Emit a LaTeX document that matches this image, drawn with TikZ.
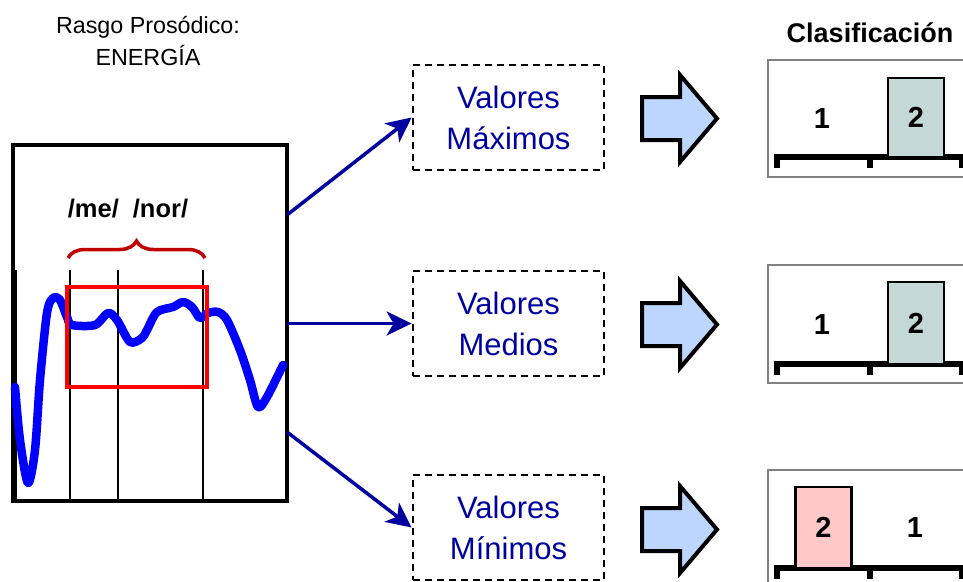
\documentclass[tikz,border=0pt]{standalone}
\usepackage{fontspec}
\setmainfont{Liberation Sans}
\usetikzlibrary{arrows.meta,decorations.pathreplacing}

\definecolor{azulosc}{RGB}{0,0,160}
\definecolor{rojooscuro}{RGB}{192,0,0}
\definecolor{celeste}{RGB}{189,214,255}
\definecolor{grisazul}{RGB}{197,216,216}
\definecolor{rosa}{RGB}{255,200,200}

\begin{document}
\begin{tikzpicture}[x=1pt, y=-1pt,
    caja/.style = {draw, dashed, dash pattern=on 7pt off 5pt, line width=2.8pt, minimum width=191pt, minimum height=105pt, align=center, text=azulosc, font=\fontsize{31}{41}\selectfont},
    flecha/.style = {azulosc, line width=3.5pt, -{Stealth[length=25pt,width=24pt,inset=7pt]}},
    bloque/.style = {draw, fill=celeste, line width=4pt, miter limit=10},
    panel/.style = {draw=gray, line width=2.5pt, minimum width=230pt},
    barra/.style = {draw, line width=2.5pt, minimum width=56pt, inner sep=0pt, font=\fontsize{29}{30}\selectfont\bfseries},
    num/.style = {font=\fontsize{29}{30}\selectfont\bfseries},
    eje/.style = {line width=6pt},
    curva/.style = {blue, line width=8.5pt, line join=round, line cap=round}
    ]
    \useasboundingbox (0,0) rectangle (963,581);
    \clip (0,0) rectangle (963,581);

    % titulos
    \node[align=center, font=\fontsize{23.3}{32}\selectfont] (rasgo) at (148,41) {Rasgo Prosódico:\\ENERGÍA};
    \node[font=\fontsize{27}{30}\selectfont\bfseries] (clasif) at (870,33) {Clasificación};

    % senal de energia
    \node[draw, line width=3.5pt, minimum width=274pt, minimum height=356pt] (senal) at (150,323) {};
    \draw[line width=2pt] (16,270) -- (16,501);
    \draw[line width=2pt] (70,270) -- (70,501);
    \draw[line width=2pt] (118,270) -- (118,501);
    \draw[line width=2pt] (203,270) -- (203,501);
    \draw[curva] plot[smooth, tension=0.5] coordinates {(15,387) (20,440) (28,483) (35,450) (40,380) (47,313) (53,298) (60,300) (67,317) (72,325) (95,325) (108,313) (117,320) (130,342) (142,338) (147,330) (157,312) (173,307) (183,302) (192,307) (200,318) (208,313) (218,312) (227,320) (240,350) (250,380) (258,407) (267,397) (283,365)};
    \draw[red, line width=4.5pt] (67,287) rectangle (207,387);
    \draw[rojooscuro, line width=3.5pt, decorate, decoration={brace, amplitude=17pt}] (68,258) -- (205,258);
    \node[font=\fontsize{25.5}{26}\selectfont\bfseries] (silabas) at (128,209) {/me/\hspace{0.55em}/nor/};

    % valores
    \node[caja] (max) at (508.5,117.5) {Valores\\Máximos};
    \node[caja] (med) at (508.5,323.5) {Valores\\Medios};
    \node[caja] (min) at (508.5,527.5) {Valores\\Mínimos};

    \coordinate (s1) at (287,215);
    \coordinate (s2) at (287,323.5);
    \coordinate (s3) at (287,432);
    \draw[flecha] (s1) -- (max.west);
    \draw[flecha] (s2) -- (med.west);
    \draw[flecha] (s3) -- (min.west);

    % flechas de bloque
    \draw[bloque] (642,97) -- (680,97) -- (680,75) -- (717,118.5) -- (680,162) -- (680,140) -- (642,140) -- cycle;
    \draw[bloque] (642,303) -- (680,303) -- (680,281) -- (717,324.5) -- (680,368) -- (680,346) -- (642,346) -- cycle;
    \draw[bloque] (642,508) -- (680,508) -- (680,486) -- (717,529.5) -- (680,573) -- (680,551) -- (642,551) -- cycle;

    % clasificacion
    \node[panel, minimum height=117pt] (c1) at (883,118.5) {};
    \node[panel, minimum height=118pt] (c2) at (883,324) {};
    \node[panel, minimum height=120pt] (c3) at (883,530) {};

    \draw[eje] (777,168) -- (777,157) -- (990,157);
    \draw[eje] (870,157) -- (870,168);
    \draw[eje] (962,157) -- (962,168);
    \node[barra, fill=grisazul, minimum height=79pt] (b1) at (916,117.5) {2};
    \node[num] (n1) at (822,119) {1};

    \draw[eje] (777,375) -- (777,364) -- (990,364);
    \draw[eje] (870,364) -- (870,375);
    \draw[eje] (962,364) -- (962,375);
    \node[barra, fill=grisazul, minimum height=82pt] (b2) at (916,323) {2};
    \node[num] (n2) at (822,325) {1};

    \draw[eje] (777,579) -- (777,568) -- (990,568);
    \draw[eje] (870,568) -- (870,579);
    \draw[eje] (962,568) -- (962,579);
    \node[barra, fill=rosa, minimum height=81pt] (b3) at (823.5,527.5) {2};
    \node[num] (n3) at (915,528) {1};
\end{tikzpicture}
\end{document}
